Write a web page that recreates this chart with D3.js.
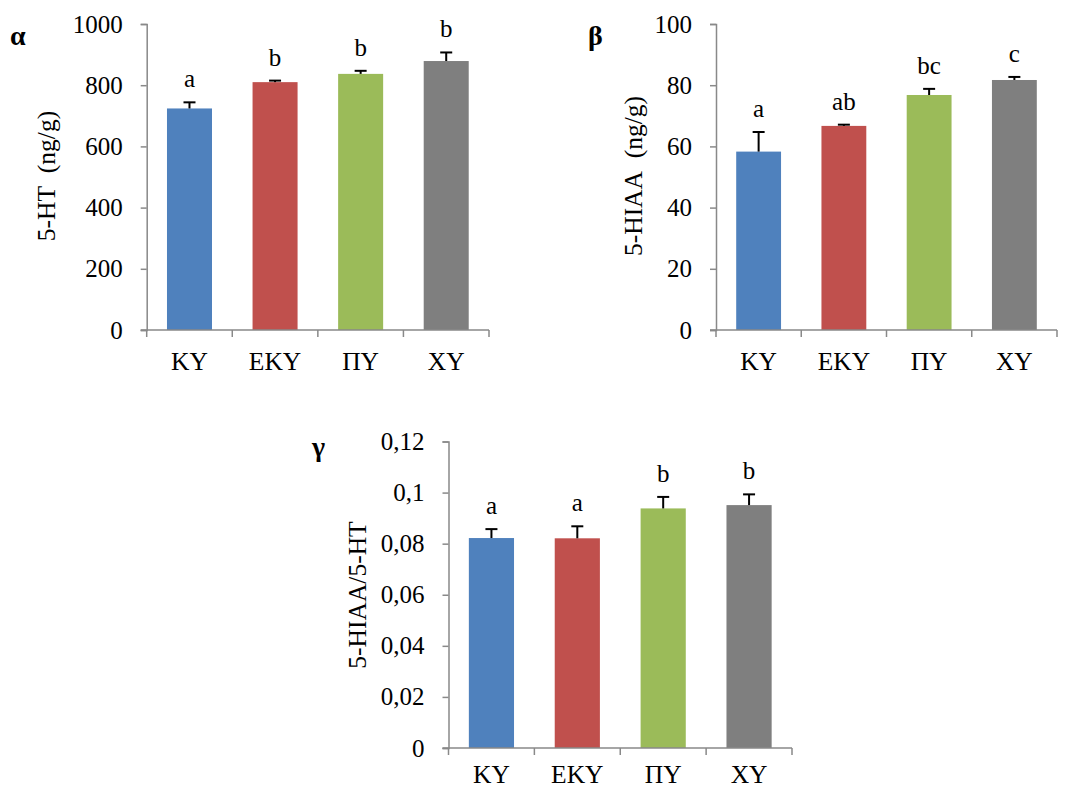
<!DOCTYPE html>
<html>
<head>
<meta charset="utf-8">
<script src="https://cdn.jsdelivr.net/npm/d3@7"></script>
<style>
  html, body { margin: 0; padding: 0; background: #fff; }
  svg { display: block; font-family: "Liberation Serif", "Times New Roman", serif; }
</style>
</head>
<body>
<svg id="chart" width="1068" height="790"></svg>
<script>
// ---- data ----
const categories = ["ΚΥ", "ΕΚΥ", "ΠΥ", "ΧΥ"];
const colors = ["#4F81BD", "#C0504D", "#9BBB59", "#7F7F7F"];

const htMeans = [724, 810, 837, 879];
const htErrors = [20, 5, 10, 28];
const htLetters = ["a", "b", "b", "b"];
const htTicks = [0, 200, 400, 600, 800, 1000];

const hiaaMeans = [58.3, 66.7, 76.8, 81.7];
const hiaaErrors = [6.4, 0.4, 2.0, 1.0];
const hiaaLetters = ["a", "ab", "bc", "c"];
const hiaaTicks = [0, 20, 40, 60, 80, 100];

const ratioMeans = [0.0822, 0.0821, 0.0938, 0.0951];
const ratioErrors = [0.0035, 0.0047, 0.0045, 0.0042];
const ratioLetters = ["a", "a", "b", "b"];
const ratioTicks = [0, 0.02, 0.04, 0.06, 0.08, 0.1, 0.12];
const ratioTickLabels = ["0", "0,02", "0,04", "0,06", "0,08", "0,1", "0,12"];

const svg = d3.select("#chart");
const axisColor = "#898989";

function drawPanel(p) {
  const x = d3.scaleBand().domain(categories).range([p.left, p.right]).padding(0);
  const y = d3.scaleLinear().domain([0, p.ticks[p.ticks.length - 1]]).range([p.bottom, p.top]);
  const g = svg.append("g");
  const barW = x.bandwidth() * 0.526;

  // bars
  g.selectAll("rect.bar").data(p.means).join("rect")
    .attr("x", (d, i) => x(categories[i]) + (x.bandwidth() - barW) / 2)
    .attr("y", d => y(d))
    .attr("width", barW)
    .attr("height", d => y(0) - y(d))
    .attr("fill", (d, i) => colors[i]);

  // y axis
  const yAxis = d3.axisLeft(y).tickValues(p.ticks).tickSize(6).tickPadding(18)
    .tickFormat((d, i) => p.tickLabels ? p.tickLabels[i] : d3.format("d")(d));
  const ya = g.append("g").attr("transform", `translate(${p.left},0)`).call(yAxis);
  ya.select(".domain").attr("stroke", axisColor).attr("stroke-width", 1.5);
  ya.selectAll(".tick line").attr("stroke", axisColor).attr("stroke-width", 1.5);
  ya.selectAll(".tick text").attr("font-size", 25).attr("fill", "#000")
    .attr("font-family", "Liberation Serif, serif");

  // x axis with ticks between categories
  const xa = g.append("g");
  xa.append("line").attr("x1", p.left - 6).attr("x2", p.right)
    .attr("y1", y(0)).attr("y2", y(0)).attr("stroke", axisColor).attr("stroke-width", 1.5);
  const bounds = categories.map(c => x(c)).concat([p.right]);
  xa.selectAll("line.tk").data(bounds).join("line")
    .attr("x1", d => d).attr("x2", d => d)
    .attr("y1", y(0)).attr("y2", y(0) + 7)
    .attr("stroke", axisColor).attr("stroke-width", 1.5);
  xa.selectAll("text").data(categories).join("text")
    .attr("x", d => x(d) + x.bandwidth() / 2)
    .attr("y", y(0) + p.catOffset)
    .attr("text-anchor", "middle").attr("font-size", 25.5)
    .text(d => d);

  // error bars (upper only)
  const capW = 6;
  p.means.forEach((m, i) => {
    const cx = x(categories[i]) + x.bandwidth() / 2;
    const yt = y(m + p.errors[i]);
    g.append("line").attr("x1", cx).attr("x2", cx).attr("y1", y(m)).attr("y2", yt)
      .attr("stroke", "#000").attr("stroke-width", 2);
    g.append("line").attr("x1", cx - capW).attr("x2", cx + capW).attr("y1", yt).attr("y2", yt)
      .attr("stroke", "#000").attr("stroke-width", 2);
    g.append("text").attr("x", cx).attr("y", yt - 15)
      .attr("text-anchor", "middle").attr("font-size", 25)
      .text(p.letters[i]);
  });

  // axis title
  g.append("text")
    .attr("transform", `translate(${p.titleX},${p.titleY}) rotate(-90)`)
    .attr("text-anchor", "middle").attr("font-size", 25.5)
    .text(p.title);

  // panel label
  g.append("text").attr("x", p.labelX).attr("y", p.labelY)
    .attr("font-size", 28).attr("font-weight", "bold")
    .text(p.label);
}

drawPanel({ means: htMeans, errors: htErrors, letters: htLetters, ticks: htTicks,
  left: 146.7, right: 489, top: 24, bottom: 330, catOffset: 40,
  title: "5-HT\u00A0\u00A0(ng/g)", titleX: 55, titleY: 176, label: "α", labelX: 10, labelY: 45 });

drawPanel({ means: hiaaMeans, errors: hiaaErrors, letters: hiaaLetters, ticks: hiaaTicks,
  left: 716, right: 1057, top: 24, bottom: 330, catOffset: 40,
  title: "5-HIAA\u00A0\u00A0(ng/g)", titleX: 642, titleY: 176, label: "β", labelX: 588, labelY: 45 });

drawPanel({ means: ratioMeans, errors: ratioErrors, letters: ratioLetters, ticks: ratioTicks,
  tickLabels: ratioTickLabels,
  left: 448.5, right: 792, top: 441.5, bottom: 748, catOffset: 35,
  title: "5-HIAA/5-HT", titleX: 366, titleY: 595, label: "γ", labelX: 312, labelY: 456 });
</script>
</body>
</html>
